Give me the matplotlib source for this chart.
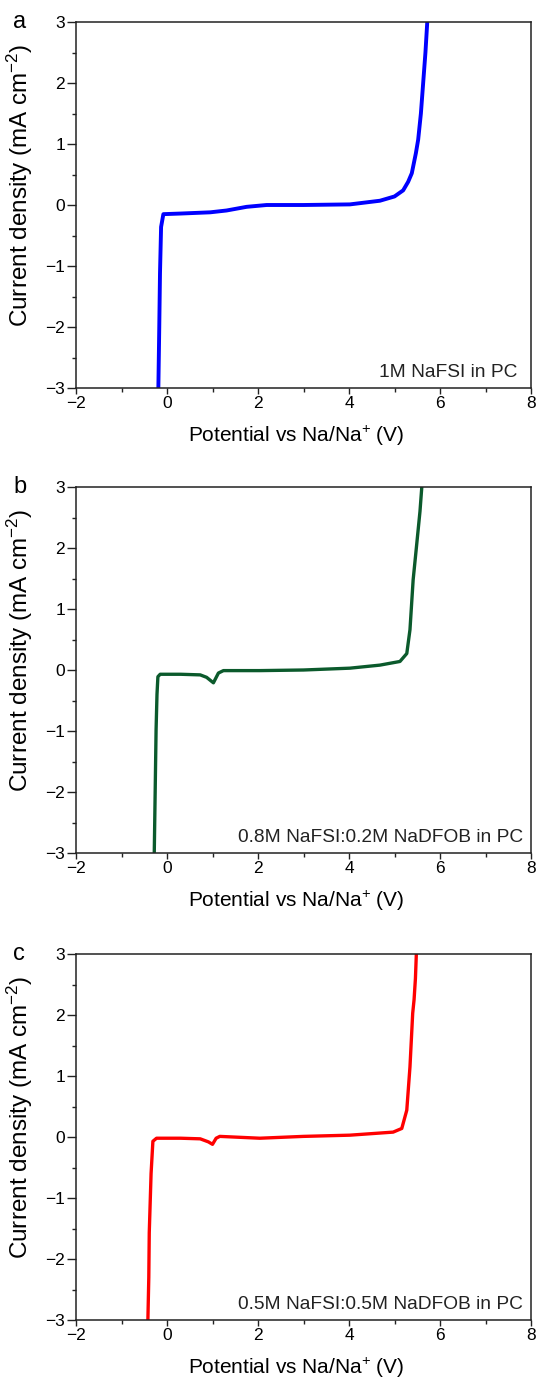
import matplotlib
matplotlib.use("Agg")
import matplotlib.pyplot as plt
from matplotlib.ticker import MultipleLocator

plt.rcParams['font.family'] = ['Liberation Sans', 'DejaVu Sans']
plt.rcParams['mathtext.fontset'] = 'custom'
plt.rcParams['mathtext.rm'] = 'Liberation Sans'
plt.rcParams['mathtext.it'] = 'Liberation Sans:italic'
plt.rcParams['mathtext.bf'] = 'Liberation Sans:bold'

# Panel a: 1M NaFSI in PC
xa = [-0.19, -0.17, -0.154, -0.13, -0.08, 0.3, 0.95, 1.31, 1.75, 2.19, 3.0, 4.02, 4.68, 5.0, 5.19, 5.3, 5.38, 5.47, 5.52, 5.58, 5.63, 5.68, 5.72]
ya = [-3.0, -2.0, -1.12, -0.36, -0.15, -0.14, -0.12, -0.09, -0.03, 0.0, 0.0, 0.01, 0.07, 0.14, 0.24, 0.38, 0.52, 0.85, 1.07, 1.5, 2.0, 2.5, 3.0]

# Panel b: 0.8M NaFSI:0.2M NaDFOB in PC
xb = [-0.28, -0.26, -0.24, -0.22, -0.2, -0.15, 0.3, 0.73, 0.87, 1.02, 1.13, 1.24, 2.04, 3.0, 4.02, 4.68, 5.12, 5.27, 5.34, 5.41, 5.48, 5.52, 5.56, 5.6]
yb = [-3.0, -2.0, -0.98, -0.4, -0.11, -0.07, -0.07, -0.08, -0.12, -0.21, -0.05, -0.01, -0.01, 0.0, 0.03, 0.08, 0.14, 0.27, 0.66, 1.48, 2.0, 2.3, 2.6, 3.0]

# Panel c: 0.5M NaFSI:0.5M NaDFOB in PC
xc = [-0.42, -0.40, -0.39, -0.35, -0.31, -0.23, 0.3, 0.73, 0.91, 1.0, 1.08, 1.16, 2.04, 3.0, 4.02, 4.97, 5.16, 5.27, 5.34, 5.40, 5.43, 5.46, 5.48]
yc = [-3.0, -2.3, -1.57, -0.6, -0.07, -0.02, -0.02, -0.03, -0.08, -0.12, -0.02, 0.01, -0.02, 0.01, 0.03, 0.08, 0.14, 0.44, 1.15, 2.03, 2.25, 2.6, 3.0]

labels = ['1M NaFSI in PC', '0.8M NaFSI:0.2M NaDFOB in PC', '0.5M NaFSI:0.5M NaDFOB in PC']
panel_letters = ['a', 'b', 'c']
colors = ['#0000FF', '#0B5A2C', '#FF0000']
xs = [xa, xb, xc]
ys = [ya, yb, yc]

# layout (pixels / fractions)
W, H = 538, 1390
left_px, right_px = 76, 531
tops = [22, 487, 954]
height_px = 366
line_widths = [2.8, 2.4, 2.4]
label_right = [0.969, 0.982, 0.982]

fig = plt.figure(figsize=(W / 100, H / 100), dpi=100)

for i in range(3):
    top = tops[i]
    ax = fig.add_axes([left_px / W, 1 - (top + height_px) / H,
                       (right_px - left_px) / W, height_px / H])
    ax.plot(xs[i], ys[i], color=colors[i], lw=line_widths[i],
            solid_capstyle='butt', solid_joinstyle='round')
    ax.set_xlim(-2, 8)
    ax.set_ylim(-3, 3)
    ax.xaxis.set_major_locator(MultipleLocator(2))
    ax.xaxis.set_minor_locator(MultipleLocator(1))
    ax.yaxis.set_major_locator(MultipleLocator(1))
    ax.yaxis.set_minor_locator(MultipleLocator(0.5))
    ax.tick_params(which='both', top=False, right=False, direction='out',
                   width=1.0, color='#222222')
    ax.tick_params(axis='x', which='major', length=4.5, labelsize=12.5, pad=1)
    ax.tick_params(axis='y', which='major', length=6.5, labelsize=12.5, pad=1.5)
    ax.tick_params(which='minor', length=3)
    for s in ax.spines.values():
        s.set_linewidth(1.1)
        s.set_color('#222222')
    ax.set_xlabel('Potential vs Na/Na$^{+}$ (V)', fontsize=15)
    ax.xaxis.set_label_coords(0.483, -0.097)
    ax.set_ylabel('Current density (mA cm$^{-2}$)', fontsize=17.5)
    ax.yaxis.set_label_coords(-0.09, 0.555)
    ax.text(label_right[i], 0.030, labels[i], transform=ax.transAxes, ha='right',
            va='baseline', fontsize=13.8, color='#222222')
    fig.text(13 / W, 1 - (top + 6) / H, panel_letters[i], fontsize=17,
             ha='left', va='baseline')

fig.savefig('out.png', dpi=100)
